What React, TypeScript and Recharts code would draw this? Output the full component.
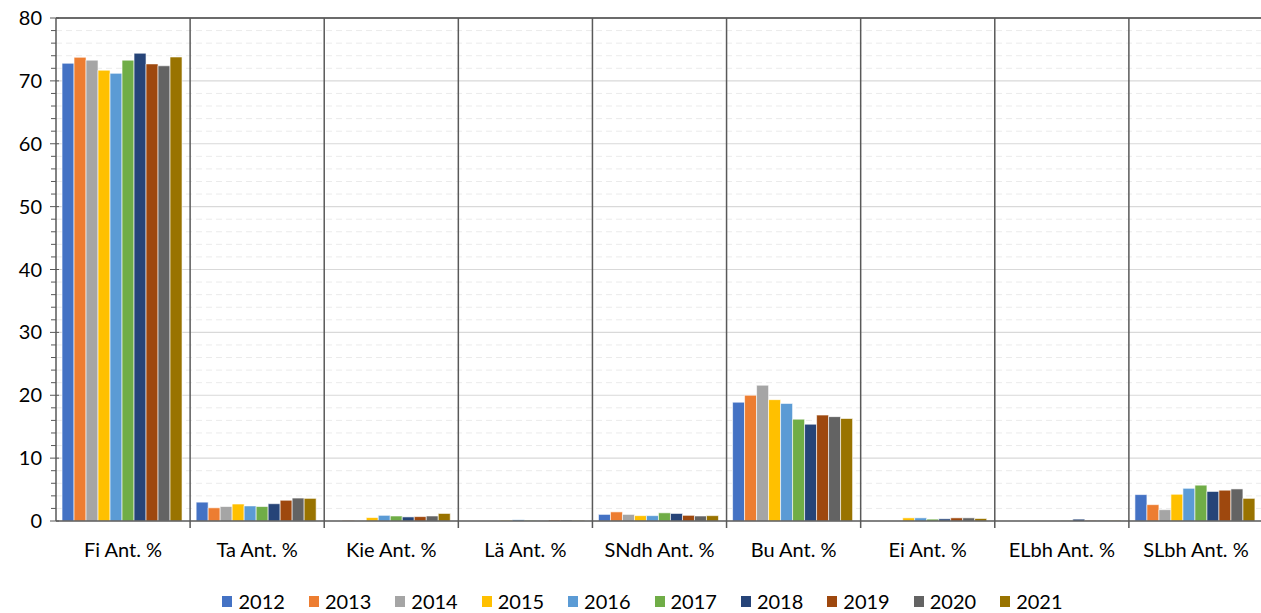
import { BarChart, Bar, XAxis, YAxis, CartesianGrid, Legend, ReferenceLine } from 'recharts'

const categories = ['Fi Ant. %', 'Ta Ant. %', 'Kie Ant. %', 'Lä Ant. %', 'SNdh Ant. %', 'Bu Ant. %', 'Ei Ant. %', 'ELbh Ant. %', 'SLbh Ant. %']

const years = ['2012', '2013', '2014', '2015', '2016', '2017', '2018', '2019', '2020', '2021']

const v2012 = [72.8, 3.0, 0, 0, 1.05, 18.9, 0, 0, 4.2]
const v2013 = [73.75, 2.1, 0.1, 0, 1.45, 20.0, 0, 0, 2.6]
const v2014 = [73.3, 2.3, 0, 0, 1.05, 21.6, 0, 0, 1.8]
const v2015 = [71.7, 2.7, 0.55, 0.1, 0.85, 19.3, 0.5, 0, 4.25]
const v2016 = [71.2, 2.4, 0.9, 0.2, 0.85, 18.7, 0.5, 0, 5.2]
const v2017 = [73.3, 2.3, 0.8, 0.1, 1.3, 16.2, 0.3, 0.05, 5.7]
const v2018 = [74.4, 2.75, 0.65, 0.05, 1.2, 15.4, 0.35, 0.3, 4.7]
const v2019 = [72.7, 3.3, 0.7, 0.15, 0.9, 16.85, 0.5, 0.1, 4.9]
const v2020 = [72.4, 3.65, 0.8, 0.15, 0.8, 16.6, 0.5, 0.1, 5.1]
const v2021 = [73.8, 3.6, 1.2, 0.1, 0.85, 16.3, 0.4, 0.1, 3.6]

const series = [v2012, v2013, v2014, v2015, v2016, v2017, v2018, v2019, v2020, v2021]

const COLORS = ['#4472C4', '#ED7D31', '#A5A5A5', '#FFC000', '#5B9BD5', '#70AD47', '#264478', '#9E480E', '#636363', '#997300']

const yTicks = [0, 2, 4, 6, 8, 10, 12, 14, 16, 18, 20, 22, 24, 26, 28, 30, 32, 34, 36, 38, 40, 42, 44, 46, 48, 50, 52, 54, 56, 58, 60, 62, 64, 66, 68, 70, 72, 74, 76, 78, 80]

const data = categories.map((name, i) => {
  const row: any = { name }
  years.forEach((y, j) => {
    row[y] = series[j][i]
  })
  return row
})

const FONT = 'Lato, "Open Sans", sans-serif'

const YTick = (props: any) => {
  const { x, y, payload } = props
  const major = payload.value % 10 === 0
  const ax = x + 14
  return (
    <g>
      <line x1={major ? ax - 6 : ax - 5} x2={major ? ax + 3 : ax} y1={y} y2={y} stroke="#595959" strokeWidth={1} />
      {major && (
        <text x={x} y={y} dy={7} textAnchor="end" fontSize={20} fontFamily={FONT} fill="#000">
          {payload.value}
        </text>
      )}
    </g>
  )
}

const GridLine = (props: any) => {
  const { x1, x2, y1, y2, index } = props
  const major = index % 5 === 0
  if (index === 0) return null
  return (
    <line
      x1={x1}
      x2={x2}
      y1={y1}
      y2={y2}
      stroke={major ? '#d9d9d9' : '#ebebeb'}
      strokeWidth={major ? 1.2 : 1}
      strokeDasharray={major ? undefined : '6 4'}
    />
  )
}

const SepLine = (props: any) => {
  const { x1, x2, y1, y2 } = props
  return <line x1={x1} x2={x2} y1={Math.min(y1, y2)} y2={Math.max(y1, y2) + 7} stroke="#595959" strokeWidth={1.5} />
}

const renderLegend = () => (
  <div style={{ display: 'flex', justifyContent: 'center', paddingTop: 28, paddingLeft: 46, fontFamily: FONT, fontSize: 20, color: '#000' }}>
    {years.map((y, i) => (
      <div key={y} style={{ display: 'flex', alignItems: 'center', marginRight: 24 }}>
        <span style={{ display: 'inline-block', width: 10, height: 11, background: COLORS[i], marginRight: 6 }} />
        <span>{y}</span>
      </div>
    ))}
  </div>
)

export default function App() {
  return (
    <div style={{ position: 'fixed', left: 0, top: 0, width: 1261, height: 613, overflow: 'hidden', background: '#fff' }}>
      <BarChart
        width={1263}
        height={613}
        data={data}
        margin={{ top: 18, right: 0, left: 0, bottom: 0 }}
        barCategoryGap="4.5%"
        barGap={0}
      >
        <CartesianGrid vertical={false} horizontal={<GridLine />} />
        <XAxis
          dataKey="name"
          tickLine={false}
          axisLine={{ stroke: '#595959', strokeWidth: 1.5 }}
          tickSize={0}
          tickMargin={22}
          height={40}
          interval={0}
          tick={{ fontSize: 20, fontFamily: FONT, fill: '#000' }}
        />
        <YAxis
          domain={[0, 80]}
          ticks={yTicks}
          interval={0}
          width={56}
          tickLine={false}
          tickSize={0}
          tickMargin={14}
          axisLine={{ stroke: '#595959', strokeWidth: 1.5 }}
          tick={<YTick />}
        />
        <ReferenceLine y={80} stroke="#404040" strokeWidth={1.5} />
        {categories.slice(1).map((c) => (
          <ReferenceLine key={c} x={c} position="start" shape={<SepLine />} />
        ))}
        <Legend verticalAlign="bottom" height={52} content={renderLegend} />
        {years.map((y, i) => (
          <Bar key={y} dataKey={y} fill={COLORS[i]} stroke="#ffffff" strokeWidth={0.6} isAnimationActive={false} />
        ))}
      </BarChart>
    </div>
  )
}
